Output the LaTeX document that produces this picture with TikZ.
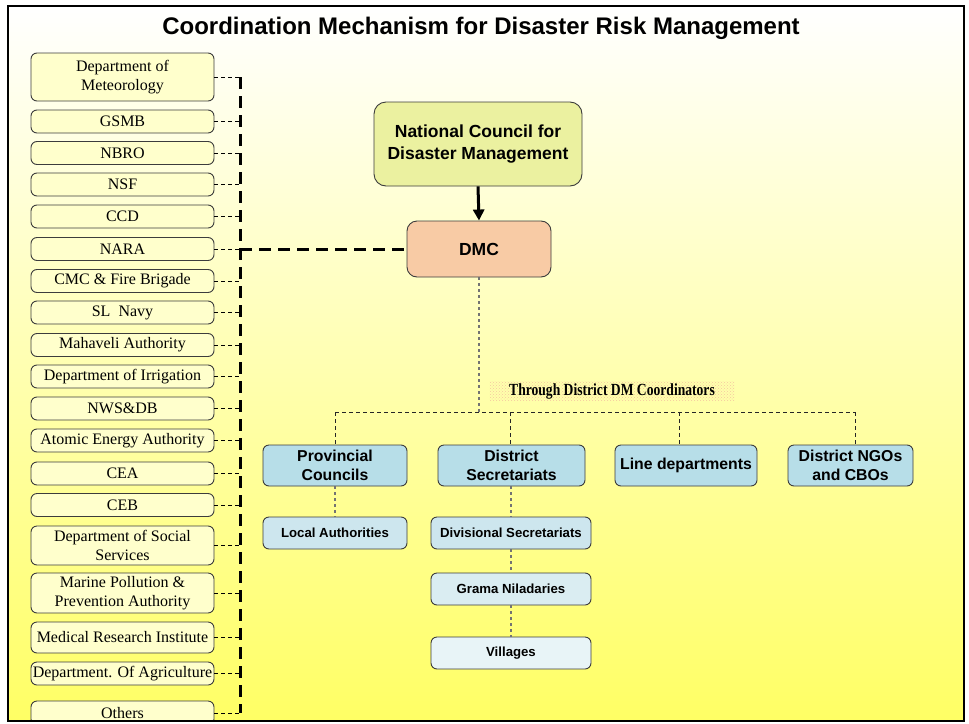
\documentclass[tikz,border=0pt]{standalone}
\usepackage{fontspec}
\setmainfont{Liberation Serif}
\newfontfamily\arial{Liberation Sans}
\usetikzlibrary{arrows.meta,patterns}
\definecolor{lyellow}{RGB}{255,255,204}
\definecolor{bgyellow}{RGB}{255,255,100}
\definecolor{boxline}{RGB}{60,60,60}
\definecolor{ncdmfill}{RGB}{235,241,160}
\definecolor{dmcfill}{RGB}{248,203,165}
\definecolor{blueA}{RGB}{183,222,232}
\definecolor{blueB}{RGB}{205,230,238}
\definecolor{blueC}{RGB}{218,237,242}
\definecolor{blueD}{RGB}{232,244,247}
\definecolor{peach}{RGB}{245,200,160}
\definecolor{dotgray}{RGB}{115,115,115}
\begin{document}
\begin{tikzpicture}[x=1pt,y=-1pt,
  lbox/.style={draw=boxline, fill=lyellow, rounded corners=6pt, line width=0.9pt,
    minimum width=183pt, minimum height=23pt, inner sep=0pt, align=center,
    font=\fontsize{16}{19}\selectfont},
  rbox/.style={draw=boxline, rounded corners=6pt, line width=0.9pt, inner sep=0pt,
    align=center},
  bigbox/.style={rbox, font=\arial\bfseries\fontsize{15.8}{19}\selectfont, fill=blueA,
    minimum height=41pt},
  smallbox/.style={rbox, font=\arial\bfseries\fontsize{13.2}{15}\selectfont, minimum height=32pt},
  lconn/.style={black, line width=0.9pt, dash pattern=on 4pt off 3pt},
  spineline/.style={black, line width=3pt, dash pattern=on 12pt off 7pt},
  grayline/.style={dotgray, line width=1.8pt, dash pattern=on 3pt off 3pt},
  branchline/.style={black!85, line width=0.9pt, dash pattern=on 4pt off 3pt}]
\useasboundingbox (0,0) rectangle (969,723);
\fill[white] (0,0) rectangle (969,723);
\shade[top color=white, bottom color=bgyellow] (8,6) rectangle (964,721);

% title
\node (title) at (481,28) {\arial\bfseries\fontsize{24}{28}\selectfont Coordination Mechanism for Disaster Risk Management};

% left column
\begin{scope}
\clip (8,6) rectangle (964,721);
\node[lbox, minimum height=48pt] (met) at (122.5,77) {Department of\\Meteorology};
\node[lbox] (gsmb) at (122.5,121.5) {GSMB};
\node[lbox] (nbro) at (122.5,153) {NBRO};
\node[lbox] (nsf) at (122.5,184.5) {NSF};
\node[lbox] (ccd) at (122.5,216.5) {CCD};
\node[lbox] (nara) at (122.5,249) {NARA};
\node[lbox] (cmc) at (122.5,281) {CMC \& Fire Brigade};
\node[lbox] (navy) at (122.5,312.5) {SL\ \ Navy};
\node[lbox] (mah) at (122.5,345) {Mahaveli Authority};
\node[lbox] (irr) at (122.5,376.5) {Department of Irrigation};
\node[lbox] (nws) at (122.5,408.5) {NWS\&DB};
\node[lbox] (atom) at (122.5,440.5) {Atomic Energy Authority};
\node[lbox] (cea) at (122.5,473.5) {CEA};
\node[lbox] (ceb) at (122.5,505) {CEB};
\node[lbox, minimum height=39pt] (soc) at (122.5,545.5) {Department of Social\\Services};
\node[lbox, minimum height=40pt] (mar) at (122.5,593) {Marine Pollution \&\\Prevention Authority};
\node[lbox, minimum height=31pt] (med) at (122.5,637.5) {Medical Research Institute};
\node[lbox] (agri) at (122.5,673.5) {Department. Of Agriculture};
\node[lbox, minimum height=24pt] (oth) at (122.5,713) {Others};
\end{scope}

\coordinate (spine) at (240,0);
\foreach \n in {met,gsmb,nbro,nsf,ccd,nara,cmc,navy,mah,irr,nws,atom,cea,ceb,soc,mar,med,agri,oth}
  \draw[lconn] (\n.east) -- (\n.east -| spine);
\draw[spineline] (met.east -| spine) -- (oth.east -| spine);

% right part
\node[rbox, fill=ncdmfill, rounded corners=12pt, minimum width=208pt, minimum height=84pt,
  font=\arial\bfseries\fontsize{17.5}{22}\selectfont] (ncdm) at (478,144) {National Council for\\Disaster Management};
\node[rbox, fill=dmcfill, rounded corners=10pt, minimum width=144pt, minimum height=56pt,
  font=\arial\bfseries\fontsize{17.5}{21}\selectfont] (dmc) at (479,249) {DMC};
\draw[spineline] (nara.east -| spine) -- (dmc.west);
\draw[line width=3pt, -{Triangle[length=11pt,width=11pt]}] (ncdm.south) -- (dmc.north);

\node[pattern=crosshatch dots, pattern color=peach, minimum width=245pt, minimum height=19pt, inner sep=0pt]
  (thr) at (612,391) {\scalebox{0.8}[1]{\bfseries\fontsize{17}{19}\selectfont Through District DM Coordinators}};

\node[bigbox, minimum width=144pt] (prov) at (335,465.5) {Provincial\\Councils};
\node[bigbox, minimum width=147pt] (dsec) at (511.5,465.5) {District\\Secretariats};
\node[bigbox, minimum width=142pt] (line) at (686,465.5) {Line departments};
\node[bigbox, minimum width=125pt] (ngo) at (850.5,465.5) {District NGOs\\and CBOs};

\node[smallbox, fill=blueB, minimum width=144pt] (loc) at (335,533) {Local Authorities};
\node[smallbox, fill=blueB, minimum width=160pt] (divs) at (511,533) {Divisional Secretariats};
\node[smallbox, fill=blueC, minimum width=160pt] (gram) at (511,589) {Grama Niladaries};
\node[smallbox, fill=blueD, minimum width=160pt] (vil) at (511,653) {Villages};

\coordinate (hm) at (479,412);
\coordinate (hL) at (335,412);
\coordinate (h2) at (510,412);
\coordinate (h3) at (679,412);
\coordinate (hR) at (855,412);
\draw[grayline] (dmc.south) -- (hm);
\draw[branchline] (hL) -- (hR);
\draw[branchline] (hL) -- (prov.north);
\draw[branchline] (h2) -- (h2 |- dsec.north);
\draw[branchline] (h3) -- (h3 |- line.north);
\draw[branchline] (hR) -- (hR |- ngo.north);
\draw[grayline] (prov.south) -- (loc.north);
\draw[grayline] (dsec.south -| divs.north) -- (divs.north);
\draw[grayline] (divs.south) -- (gram.north);
\draw[grayline] (gram.south) -- (vil.north);

% frame
\draw[line width=2.5pt] (8,6) rectangle (964,721);
\end{tikzpicture}
\end{document}
